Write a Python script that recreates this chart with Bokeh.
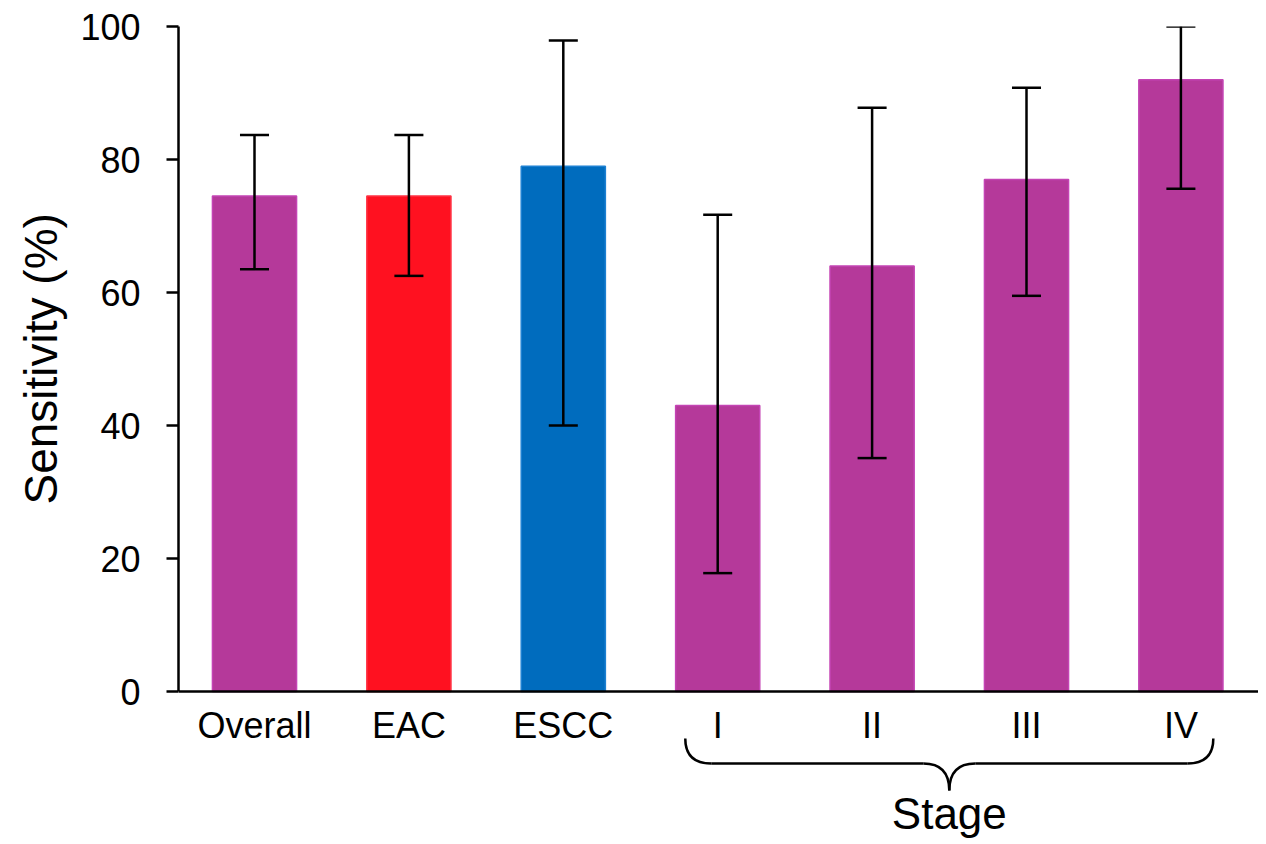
from bokeh.plotting import figure
from bokeh.models import Range1d, Span, FixedTicker, ColumnDataSource, Title
from bokeh.core.properties import value
from bokeh.embed import file_html
from bokeh.resources import INLINE

# ---- data ----
categories = ["Overall", "EAC", "ESCC", "I", "II", "III", "IV"]
sensitivity = [74.5, 74.5, 79.0, 43.0, 64.0, 77.0, 92.0]
ci_low = [63.5, 62.5, 40.0, 17.8, 35.1, 59.5, 75.6]
ci_high = [83.7, 83.7, 97.9, 71.7, 87.8, 90.8, 100.0]
y_ticks = [0, 20, 40, 60, 80, 100]
stage_members = ["I", "II", "III", "IV"]
group_label = "Stage"
y_label = "Sensitivity (%)"

# ---- styles ----
PURPLE, RED, BLUE = "#B5399A", "#FF1120", "#006CBE"
fills = [PURPLE, RED, BLUE, PURPLE, PURPLE, PURPLE, PURPLE]
edges = ["#C444B4", "#FF3344", "#1C80D2", "#C444B4", "#C444B4", "#C444B4", "#C444B4"]
FONT = "Liberation Sans"

W, H = 1258, 844
LEFT, TOP = 178, 26
frame_w = W - LEFT
frame_h = H - TOP
px_per_y = 665.0 / 100.0
px_per_x = 154.4
x_start = -76.0 / px_per_x
x_end = x_start + frame_w / px_per_x
y_end = 100.0
y_start = y_end - frame_h / px_per_y

p = figure(width=W, height=H, output_backend="svg", toolbar_location=None,
           x_range=Range1d(x_start, x_end), y_range=Range1d(y_start, y_end),
           x_axis_location=None, min_border_left=LEFT, min_border_right=0,
           min_border_top=TOP, min_border_bottom=0)
p.outline_line_color = None
p.grid.visible = False
p.background_fill_color = "white"
p.border_fill_color = "white"

ya = p.yaxis[0]
ya.bounds = (0, 100)
ya.ticker = FixedTicker(ticks=y_ticks)
ya.major_tick_out = 12
ya.major_tick_in = 0
ya.minor_tick_line_color = None
ya.axis_line_width = 2.5
ya.major_tick_line_width = 2.5
ya.axis_line_color = "black"
ya.major_tick_line_color = "black"
ya.major_label_text_font = FONT
ya.major_label_text_font_size = "36px"
ya.major_label_text_color = "black"
ya.major_label_standoff = 26

idx = list(range(len(categories)))
src = ColumnDataSource(dict(x=idx, top=sensitivity, lo=ci_low, hi=ci_high,
                            fill=fills, edge=edges, cat=categories))

p.vbar(x="x", top="top", bottom=0, width=0.545, source=src,
       fill_color="fill", line_color="edge", line_width=1.5)

# baseline (x axis line)
p.add_layout(Span(location=0, dimension="width", line_color="black", line_width=2.5))

# error bars
cap = 0.094
p.segment(x0="x", y0="lo", x1="x", y1="hi", source=src, line_color="black", line_width=2.5)
p.segment(x0=[i - cap for i in idx], y0=ci_low, x1=[i + cap for i in idx], y1=ci_low,
          line_color="black", line_width=2.5)
p.segment(x0=[i - cap for i in idx], y0=ci_high, x1=[i + cap for i in idx], y1=ci_high,
          line_color="black", line_width=2.5)

# category labels
label_y = -34.0 / px_per_y
p.text(x="x", y=label_y, text="cat", source=src, text_font=value(FONT),
       text_font_size="36px", text_align="center", text_baseline="alphabetic",
       text_color="black")

# brace under the stage group
members = [categories.index(s) for s in stage_members]
cx = (members[0] + members[-1]) / 2.0
half = (members[-1] - members[0]) / 2.0 + 0.21
L, R = cx - half, cx + half
y_top = -47.0 / px_per_y
y_mid = -72.0 / px_per_y
y_tip = -99.0 / px_per_y
r = 26.0 / px_per_x
bw = 2.5
p.quadratic(x0=[L, R], y0=[y_top, y_top], x1=[L + r, R - r], y1=[y_mid, y_mid],
            cx=[L, R], cy=[y_mid, y_mid], line_color="black", line_width=bw)
p.segment(x0=[L + r, cx + r], y0=[y_mid, y_mid], x1=[cx - r, R - r], y1=[y_mid, y_mid],
          line_color="black", line_width=bw)
p.quadratic(x0=[cx - r, cx + r], y0=[y_mid, y_mid], x1=[cx, cx], y1=[y_tip, y_tip],
            cx=[cx, cx], cy=[y_mid, y_mid], line_color="black", line_width=bw)

p.text(x=[cx], y=[-122.0 / px_per_y], text=[group_label], text_font=value(FONT),
       text_font_size="44px", text_align="center", text_baseline="alphabetic",
       text_color="black")

# y axis title
p.add_layout(Title(text=y_label, align="left", offset=340, standoff=22,
                   text_font=FONT, text_font_size="46px", text_font_style="normal",
                   text_color="black"), "left")

open("out.html", "w").write(file_html(p, INLINE))
